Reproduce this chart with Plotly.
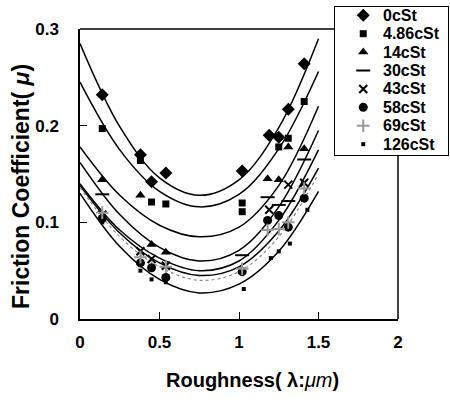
import plotly.graph_objects as go

FONT = "Liberation Sans"
W, H = 450, 403

series_names = ["0cSt", "4.86cSt", "14cSt", "30cSt", "43cSt", "58cSt", "69cSt", "126cSt"]

# measured points
x_0 = [0.14, 0.38, 0.45, 0.54, 1.02, 1.19, 1.25, 1.31, 1.41]
y_0 = [0.232, 0.170, 0.142, 0.151, 0.153, 0.190, 0.188, 0.217, 0.264]
x_486 = [0.14, 0.38, 0.45, 0.54, 1.02, 1.02, 1.25, 1.31, 1.41]
y_486 = [0.197, 0.164, 0.121, 0.119, 0.120, 0.111, 0.178, 0.187, 0.225]
x_14 = [0.14, 0.38, 0.45, 0.54, 1.18, 1.25, 1.31, 1.41]
y_14 = [0.144, 0.128, 0.077, 0.069, 0.145, 0.144, 0.178, 0.176]
x_30 = [0.14, 1.02, 1.18, 1.25, 1.31, 1.41]
y_30 = [0.129, 0.066, 0.126, 0.118, 0.122, 0.165]
x_43 = [0.14, 0.38, 0.45, 0.54, 1.19, 1.31, 1.41]
y_43 = [0.108, 0.070, 0.062, 0.055, 0.113, 0.139, 0.141]
x_58 = [0.14, 0.38, 0.45, 0.54, 1.02, 1.18, 1.25, 1.31, 1.41]
y_58 = [0.104, 0.058, 0.053, 0.043, 0.049, 0.102, 0.107, 0.095, 0.125]
x_69 = [0.14, 0.38, 0.54, 1.02, 1.18, 1.25, 1.31, 1.41]
y_69 = [0.110, 0.064, 0.054, 0.052, 0.092, 0.093, 0.100, 0.135]
x_126 = [0.14, 0.38, 0.45, 0.54, 1.03, 1.20, 1.25, 1.32, 1.43]
y_126 = [0.100, 0.050, 0.041, 0.038, 0.031, 0.063, 0.070, 0.078, 0.113]

# trend curves
curve_x = [0, 0.25, 0.5, 0.75, 1.0, 1.25, 1.5]
curve_0 = [0.285, 0.199, 0.146, 0.128, 0.144, 0.198, 0.290]
curve_486 = [0.245, 0.175, 0.132, 0.116, 0.129, 0.176, 0.256]
curve_14 = [0.178, 0.128, 0.097, 0.085, 0.095, 0.138, 0.220]
curve_30 = [0.162, 0.108, 0.074, 0.060, 0.071, 0.116, 0.195]
curve_43 = [0.140, 0.092, 0.063, 0.050, 0.060, 0.102, 0.175]
curve_58 = [0.138, 0.089, 0.058, 0.045, 0.054, 0.091, 0.156]
curve_69 = [0.136, 0.085, 0.054, 0.040, 0.049, 0.085, 0.150]
curve_126 = [0.130, 0.075, 0.041, 0.027, 0.036, 0.070, 0.132]

x_ticks = [0, 0.5, 1, 1.5, 2]
x_tick_text = ["0", "0.5", "1", "1.5", "2"]
y_ticks = [0, 0.1, 0.2, 0.3]
y_tick_text = ["0", "0.1", "0.2", "0.3"]

x_title = "Roughness( λ:<span style='font-weight:normal'><i>μm</i></span>)"
y_title = "Friction Coefficient( <i>μ</i>)"

points = [
    (x_0, y_0, "diamond", 10, "black"),
    (x_486, y_486, "square", 7, "black"),
    (x_14, y_14, "triangle-up", 9, "black"),
    (x_30, y_30, "line-ew", 10, "black"),
    (x_43, y_43, "x-thin", 8, "black"),
    (x_58, y_58, "circle", 9, "black"),
    (x_69, y_69, "cross-thin", 9, "#999999"),
    (x_126, y_126, "square", 4, "black"),
]
curves = [curve_0, curve_486, curve_14, curve_30, curve_43, curve_58, curve_69, curve_126]

# layout geometry (pixels)
PL, PR, PT, PB = 80, 398, 29, 319          # plot area
LL, LR, LT, LB = 335, 448, 7, 155          # legend box

fig = go.Figure()
for i, c in enumerate(curves):
    grey = i == 6
    fig.add_trace(go.Scatter(
        x=curve_x, y=c, mode="lines", line_shape="spline",
        line=dict(color="#888888" if grey else "black", width=1.2 if grey else 1.5,
                  dash="dot" if grey else "solid"),
        showlegend=False, hoverinfo="skip"))


def marker(sym, sz, col):
    thin = sym in ("line-ew", "x-thin", "cross-thin")
    return dict(symbol=sym, size=sz, color=col, line=dict(color=col, width=2 if thin else 0))


for name, (xs, ys, sym, sz, col) in zip(series_names, points):
    fig.add_trace(go.Scatter(x=xs, y=ys, mode="markers", name=name,
                             marker=marker(sym, sz, col), showlegend=False))

# legend drawn on its own small axes
for i, (name, (xs, ys, sym, sz, col)) in enumerate(zip(series_names, points)):
    fig.add_trace(go.Scatter(x=[0.25], y=[i], mode="markers", marker=marker(sym, sz, col),
                             xaxis="x2", yaxis="y2", showlegend=False, hoverinfo="skip"))
    fig.add_annotation(x=0.41, y=i, xref="x2", yref="y2", text=name, showarrow=False,
                       xanchor="left", yanchor="middle",
                       font=dict(family=FONT, size=16, color="black", weight="bold"))

# axis titles
fig.add_annotation(x=252 / W, y=1 - 380 / H, xref="paper", yref="paper", text=x_title,
                   showarrow=False, xanchor="center", yanchor="middle",
                   font=dict(family=FONT, size=20, color="black", weight="bold"))
fig.add_annotation(x=21 / W, y=1 - 187 / H, xref="paper", yref="paper", text=y_title,
                   showarrow=False, xanchor="center", yanchor="middle", textangle=-90,
                   font=dict(family=FONT, size=23, color="black", weight="bold"))

axis_common = dict(showgrid=False, zeroline=False, showline=True, linecolor="black",
                   linewidth=1.5, mirror=False, ticks="inside", ticklen=7, tickcolor="black",
                   tickwidth=1.2, automargin=False)

fig.update_layout(
    width=W, height=H,
    margin=dict(l=0, r=0, t=0, b=0, autoexpand=False),
    paper_bgcolor="white", plot_bgcolor="white",
    font=dict(family=FONT, color="black", size=16),
    showlegend=False,
    xaxis=dict(domain=[PL / W, PR / W], range=[0, 2], tickvals=x_ticks, ticktext=x_tick_text,
               tickfont=dict(family=FONT, size=17, weight="bold"), ticklabelstandoff=7,
               anchor="y", **axis_common),
    yaxis=dict(domain=[1 - PB / H, 1 - PT / H], range=[0, 0.3], tickvals=y_ticks,
               ticktext=y_tick_text,
               tickfont=dict(family=FONT, size=17, weight="bold"), ticklabelstandoff=16,
               anchor="x", **axis_common),
    xaxis2=dict(domain=[LL / W, LR / W], range=[0, 1], anchor="y2", visible=True,
                showticklabels=False, ticks="", showgrid=False, zeroline=False,
                showline=True, linecolor="black", linewidth=1.2, mirror=True, fixedrange=True),
    yaxis2=dict(domain=[1 - LB / H, 1 - LT / H], range=[7.59, -0.45], anchor="x2",
                showticklabels=False, ticks="", showgrid=False, zeroline=False,
                showline=True, linecolor="black", linewidth=1.2, mirror=True, fixedrange=True),
    shapes=[
        # right frame edge, stopping under the legend box
        dict(type="line", xref="x domain", yref="y domain", x0=1, x1=1, y0=0,
             y1=(PB - LB) / (PB - PT), line=dict(color="black", width=1.5)),
        # top frame edge, stopping at the legend box
        dict(type="line", xref="x domain", yref="y domain", x0=0,
             x1=(LL - PL) / (PR - PL), y0=1, y1=1, line=dict(color="black", width=1.5)),
    ],
)

fig.write_html("out.html", config={"displayModeBar": False},
               post_script="document.body.style.margin='0px';")
